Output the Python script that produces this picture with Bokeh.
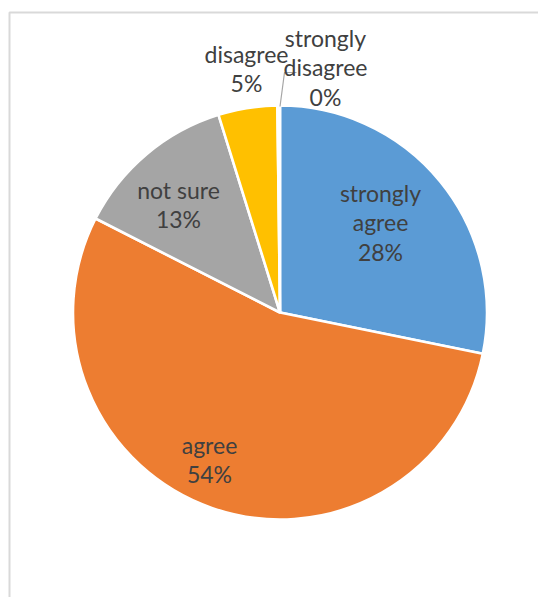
import math
from bokeh.plotting import figure
from bokeh.models import Range1d, ColumnDataSource
from bokeh.core.properties import value
from bokeh.embed import file_html
from bokeh.resources import INLINE

# ---- data ----
categories = ["strongly agree", "agree", "not sure", "disagree", "strongly disagree"]
label_names = ["strongly\nagree", "agree", "not sure", "disagree", "strongly\ndisagree"]
shares = [28.2, 54.3, 12.7, 4.6, 0.2]
colors = ["#5B9BD5", "#ED7D31", "#A5A5A5", "#FFC000", "#4472C4"]

# ---- layout (1 data unit = 1 px) ----
W, H = 538, 597
def dx(px):
    return px
def dy(py):
    return H - py

cx, cy, r = dx(279.5), dy(312), 207
# label block centres (px)
label_pos = [(380, 222), (209, 459), (178, 204), (246, 68), (325, 67)]

total = sum(shares)
starts, ends = [], []
acc = 0.0
for s in shares:
    a0 = math.pi / 2 - 2 * math.pi * acc / total
    acc += s
    a1 = math.pi / 2 - 2 * math.pi * acc / total
    starts.append(a1)
    ends.append(a0)

src = ColumnDataSource(dict(cat=categories, start=starts, end=ends, color=colors))

p = figure(width=W, height=H, output_backend="svg", toolbar_location=None,
           x_range=Range1d(0, W), y_range=Range1d(0, H), min_border=0,
           outline_line_color=None)
p.axis.visible = False
p.grid.visible = False
p.background_fill_color = "white"
p.border_fill_color = "white"

# chart area frame (extends beyond the window on right/bottom)
p.quad(left=[9], right=[W + 50], top=[dy(12)], bottom=[-50],
       fill_color=None, line_color="#D9D9D9", line_width=2)

p.wedge(x=cx, y=cy, radius=r, start_angle="start", end_angle="end",
        fill_color="color", line_color="white", line_width=2.6, source=src)

# leader line for the tiny slice
p.line(x=[dx(296), dx(284), dx(279.5)], y=[dy(72), dy(72), dy(106)],
       line_color="#A6A6A6", line_width=1.2)

texts = [f"{n}\n{round(s / total * 100)}%" for n, s in zip(label_names, shares)]
lsrc = ColumnDataSource(dict(x=[dx(a) for a, b in label_pos],
                             y=[dy(b) for a, b in label_pos], t=texts))
p.text(x="x", y="y", text="t", source=lsrc, text_align="center",
       text_baseline="middle", text_font=value("Lato"), text_font_size="23px",
       text_color="#404040", text_line_height=1.07)

open("out.html", "w").write(file_html(p, INLINE))
